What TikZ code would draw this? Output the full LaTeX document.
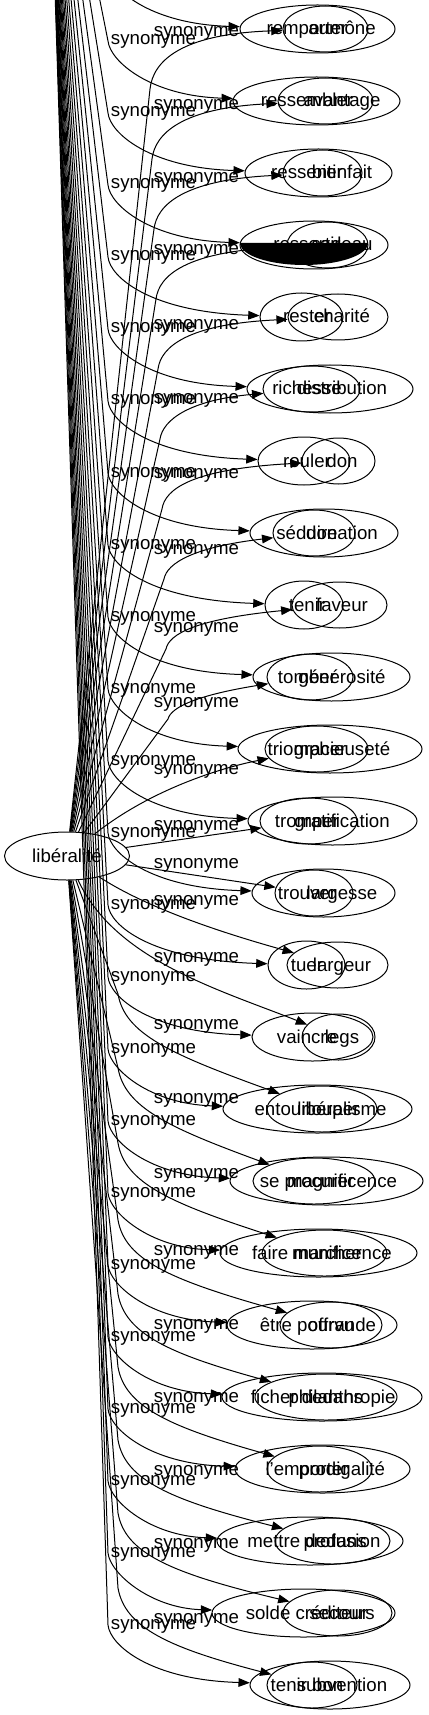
\documentclass[tikz,border=0pt]{standalone}
\usepackage{fontspec}
\setmainfont{Liberation Sans}
\usetikzlibrary{arrows.meta,shapes.geometric}

\begin{document}
\begin{tikzpicture}[
                x=0.75pt, y=-0.75pt,
                line width=0.75pt,
                every node/.style={inner sep=0pt, font=\fontsize{14pt}{17pt}\selectfont},
                ring/.style={draw, ellipse, minimum height=36pt},
                word/.style={anchor=base},
                syn/.style={anchor=base},
                link/.style={-{Triangle[length=8.5pt,width=6.5pt]}}
            ]

            \useasboundingbox (0,0) rectangle (428,1715);
            \clip (0,0) rectangle (428,1715);

            \node[ring, minimum width=93.75pt] (lib) at (67,856) {libéralité};
            \coordinate (asrc) at (46.6,-267);

            \foreach \i/\ca/\la/\cb/\lb/\ta/\tb in {
                0/317.5/155/325.5/85/remporter/aumône,
                1/316.5/167/325.5/95/ressembler/avantage,
                2/318.5/147/322.5/79/ressentir/bienfait,
                3/314/148/327.5/81/ressortir/cadeau,
                4/301.5/83/338/100/rester/charité,
                5/330/166/311.5/97/richesse/distribution,
                6/304/92/338.5/73/rouler/don,
                7/324/148/314/82/séduire/donation,
                8/304/78/339.5/95/tenir/faveur,
                9/331.5/157/310/86/tomber/générosité,
                10/330/184/316.5/103/triompher/gracieuseté,
                11/332.5/169/308.5/97/tromper/gratification,
                12/323.5/143/314/78/trouver/largesse,
                13/306.5/77/337.5/101/tuer/largeur,
                14/312.5/121/338.5/73/vaincre/legs,
                15/317.5/189/322/110/entourlouper/libéralisme,
                16/326.5/193/314/122/se procurer/magnificence,
                17/318.5/197/324.5/125/faire marcher/munificence,
                18/312/170/331/102/être pourvu/offrande,
                19/322/200/326/142/ficher dedans/philanthropie,
                20/322.5/175/319.5/105/l'emporter/prodigalité,
                21/310/186/332.5/115/mettre dedans/profusion,
                22/303.5/183/337.5/109/solde créditeur/secours,
                23/330/160/312/90/tenir bon/subvention} {
                \pgfmathsetmacro\r{29+72*\i}
                \node[ring, minimum width=\la*0.75pt] (ea\i) at (\ca,\r) {};
                \node[ring, minimum width=\lb*0.75pt, minimum height=34.5pt] (eb\i) at (\cb,\r) {};
                \node[word] (ta\i) at (307,\r+6) {\ta};
                \node[word] (tb\i) at (342,\r+6) {\tb};
            }

            \fill (240,243) -- plot[domain=180:360, samples=37] ({304+64*cos(\x)},{243-22*sin(\x)}) -- cycle;

            \foreach \i in {0,...,23} {
                \pgfmathsetmacro\r{29+72*\i}
                \draw[link] (asrc) -- (108,\r-60) .. controls (110,\r-40) and (150,\r-5) .. (ea\i);
            }

            \foreach \i/\d in {0/3,1/5,2/5,3/5,4/5,5/9,6/6,7/12,8/12,9/16} {
                \pgfmathsetmacro\r{29+72*\i}
                \pgfmathsetmacro\px{150+2*\i}
                \pgfmathsetmacro\py{\r+60-2*\i}
                \pgfmathsetmacro\qy{\r+\d+2}
                \draw[link] (lib) -- (\px,\py) .. controls (\px+3,{(\py+\qy)/2}) and (\px+30,\qy) .. (eb\i);
            }
            \draw[link] (lib) .. controls (150,790) and (220,768) .. (eb10);
            \draw[link] (lib) -- (eb11);
            \draw[link] (lib) -- (eb12);
            \draw[link] (lib) .. controls (150,910) and (230,935) .. (eb13);
            \draw[link] (lib) .. controls (115,960) and (220,990) .. (eb14);
            \foreach \i/\yl in {15/1024,16/1098,17/1173,18/1250,19/1324,20/1397,21/1470,22/1543,23/1618} {
                \draw[link] (lib) -- (118,\yl-30) .. controls (125,\yl+10) and (170,\yl+30) .. (eb\i);
            }

            \foreach \i in {1,...,23} {
                \node[syn] (sa\i) at (153.5,{29+72*\i-56}) {synonyme};
            }
            \foreach \i/\y in {0/32,1/105,2/178,3/250,4/325,5/398,6/473,7/549,8/627,9/702,10/769,11/825,
                12/863,13/900,14/957,15/1024,16/1098,17/1173,18/1250,19/1324,20/1397,21/1470,22/1543,23/1618} {
                \node[syn] (sb\i) at (196.5,\y+5) {synonyme};
            }

        \end{tikzpicture}
\end{document}
